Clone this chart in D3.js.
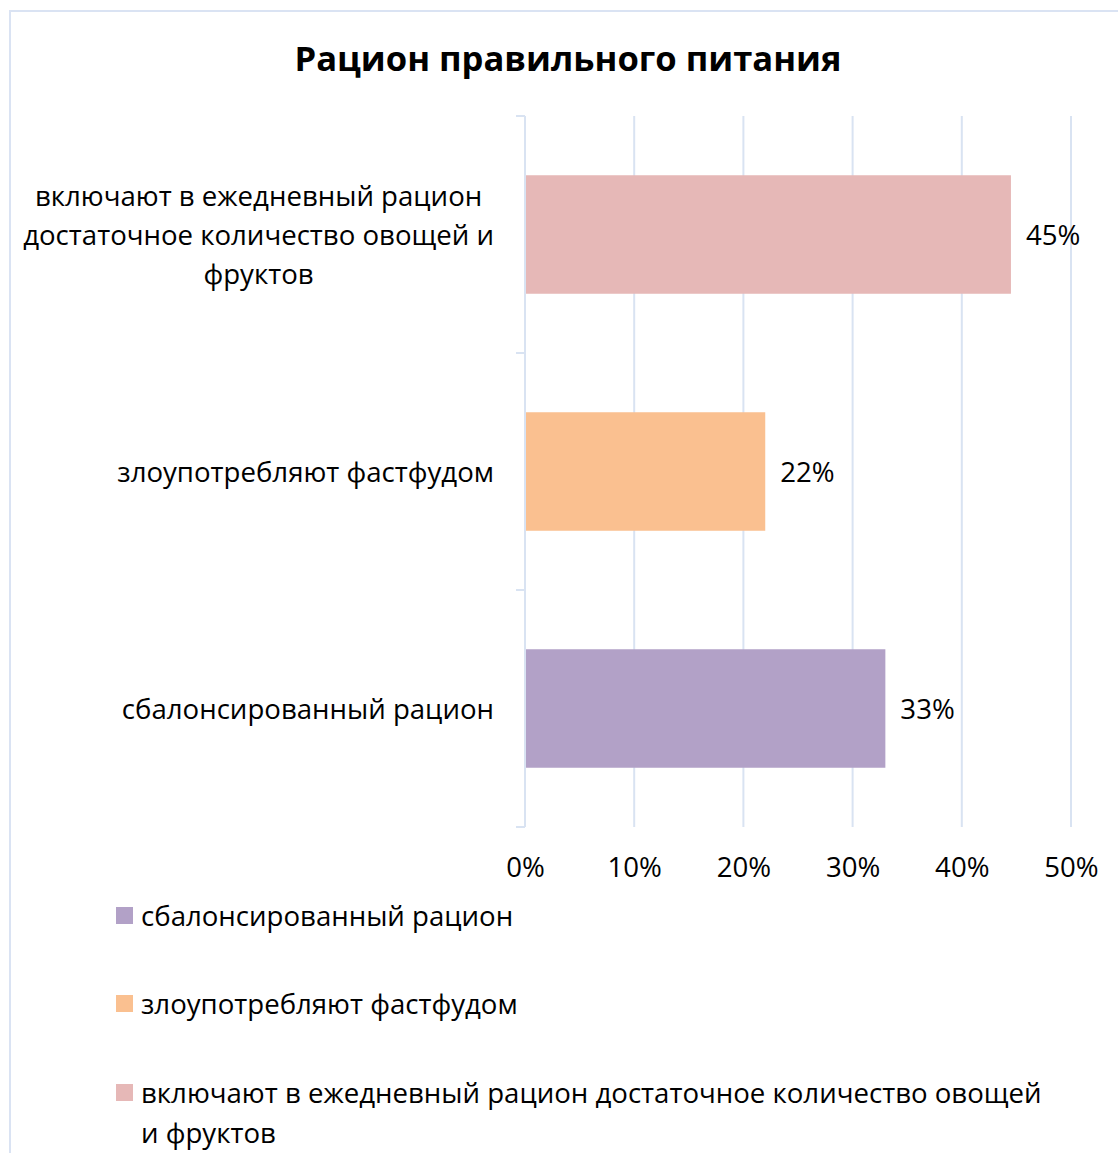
<!DOCTYPE html>
<html><head><meta charset="utf-8">
<script src="https://cdn.jsdelivr.net/npm/d3@7"></script>
<style>
html,body{margin:0;padding:0;background:#fff;}
svg{display:block;}
text{font-family:"Open Sans","Noto Sans",sans-serif;fill:#000;}
</style></head>
<body>
<svg id="chart" width="1118" height="1153"></svg>
<script>
const title = "Рацион правильного питания";
const categories = [
  "включают в ежедневный рацион достаточное количество овощей и фруктов",
  "злоупотребляют фастфудом",
  "сбалонсированный рацион"
];
const categoryLines = [
  ["включают в ежедневный рацион", "достаточное количество овощей и", "фруктов"],
  ["злоупотребляют фастфудом"],
  ["сбалонсированный рацион"]
];
const values = [0.445, 0.22, 0.33];
const valueLabels = ["45%", "22%", "33%"];
const colors = ["#e6b8b7", "#fac090", "#b2a1c7"];
const xTicks = [0, 0.1, 0.2, 0.3, 0.4, 0.5];
const legendOrder = [2, 1, 0];
const legendLines = [
  ["сбалонсированный рацион"],
  ["злоупотребляют фастфудом"],
  ["включают в ежедневный рацион достаточное количество овощей", "и фруктов"]
];

const svg = d3.select("#chart");
const grid = "#d9e3f2";
const fs = 27.6;

// chart border
svg.append("rect").attr("x", 10).attr("y", 11).attr("width", 1130).attr("height", 1160)
  .attr("fill", "none").attr("stroke", "#dae3f3").attr("stroke-width", 2);

svg.append("text").attr("x", 568).attr("y", 71).attr("text-anchor", "middle")
  .attr("font-size", 34.6).attr("font-weight", "bold").text(title);

const pLeft = 525, pRight = 1071, pTop = 116, pBottom = 827;
const x = d3.scaleLinear().domain([0, 0.5]).range([pLeft, pRight]);
const y = d3.scaleBand().domain(categories).range([pTop, pBottom]).paddingInner(0.5).paddingOuter(0.25);

// gridlines
svg.append("g").selectAll("line").data(xTicks.slice(1)).join("line")
  .attr("x1", d => x(d)).attr("x2", d => x(d)).attr("y1", pTop).attr("y2", pBottom)
  .attr("stroke", grid).attr("stroke-width", 2);

// x axis labels
const xAxis = d3.axisBottom(x).tickValues(xTicks).tickFormat(d3.format(".0%")).tickSize(0).tickPadding(0);
const gx = svg.append("g").attr("transform", `translate(0,${pBottom + 30})`).call(xAxis);
gx.select(".domain").remove();
gx.selectAll("text").attr("font-size", fs).attr("font-family", "'Open Sans','Noto Sans',sans-serif").attr("fill", "#000");

// y axis line and ticks
const yStep = y.step();
const bounds = [pTop, pTop + yStep, pTop + 2 * yStep, pBottom];
svg.append("line").attr("x1", pLeft).attr("x2", pLeft).attr("y1", pTop).attr("y2", pBottom)
  .attr("stroke", grid).attr("stroke-width", 2);
svg.append("g").selectAll("line").data(bounds).join("line")
  .attr("x1", pLeft - 9).attr("x2", pLeft).attr("y1", d => d).attr("y2", d => d)
  .attr("stroke", grid).attr("stroke-width", 2);

// bars
svg.append("g").selectAll("rect").data(categories).join("rect")
  .attr("x", x(0) + 1).attr("y", d => y(d))
  .attr("width", (d, i) => x(values[i]) - x(0) - 1).attr("height", y.bandwidth())
  .attr("fill", (d, i) => colors[i]);

// value labels
svg.append("g").selectAll("text").data(categories).join("text")
  .attr("x", (d, i) => x(values[i]) + 15).attr("y", d => y(d) + y.bandwidth() / 2 + 10)
  .attr("font-size", fs).text((d, i) => valueLabels[i]);

// category labels
const lineH = 39;
categories.forEach((c, i) => {
  const lines = categoryLines[i];
  const g = svg.append("g");
  const ts = lines.map(l => g.append("text").attr("font-size", fs).text(l));
  const maxW = d3.max(ts, t => t.node().getComputedTextLength());
  const cx = 494 - maxW / 2;
  const cy = y(c) + y.bandwidth() / 2;
  ts.forEach((t, k) => {
    t.attr("text-anchor", "middle").attr("x", cx)
     .attr("y", cy + (k - (lines.length - 1) / 2) * lineH + 10);
  });
});

// legend
const legY = [916, 1004, 1093];
legendOrder.forEach((ci, k) => {
  const yy = legY[k];
  svg.append("rect").attr("x", 116).attr("y", yy - 9).attr("width", 17).attr("height", 17).attr("fill", colors[ci]);
  legendLines[k].forEach((l, j) => {
    svg.append("text").attr("x", 141).attr("y", yy + 10 + j * 40).attr("font-size", fs).text(l);
  });
});
</script>
</body></html>
